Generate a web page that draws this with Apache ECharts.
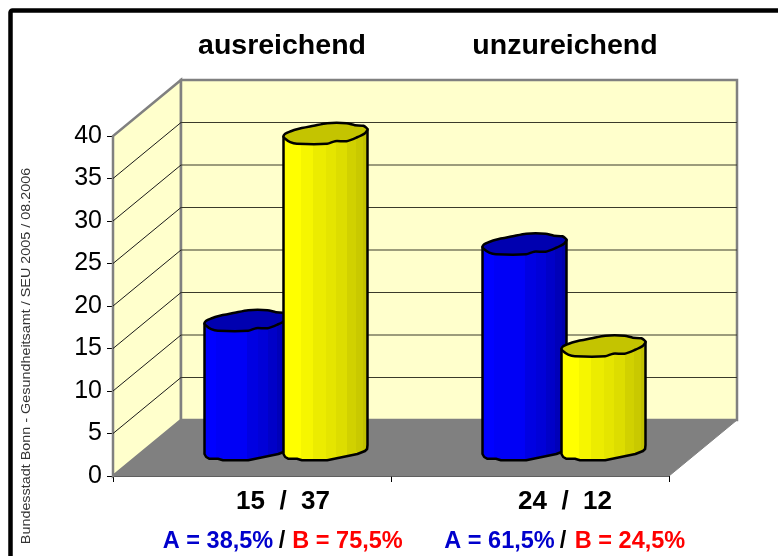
<!DOCTYPE html>
<html lang="en">
<head>
    <meta charset="UTF-8">
    <title>Bundesstadt Bonn</title>
    <style>
        *{margin: 0; padding: 0;}
        body,html{width: 100%; height: 100%; background: #fff; overflow: hidden;}
        #chart{width: 778px; height: 556px;}
    </style>
</head>
<body>
<div id="chart"></div>
<script src="https://cdn.jsdelivr.net/npm/echarts@6/dist/echarts.min.js"></script>
<script>
    const categories = ['ausreichend', 'unzureichend'];
    const valuesA = [15, 24];
    const valuesB = [37, 12];
    const countLabels = ['15  /  37', '24  /  12'];
    const shareA = ['A = 38,5%', 'A = 61,5%'];
    const shareB = ['B = 75,5%', 'B = 24,5%'];
    const yTicks = [5, 10, 15, 20, 25, 30, 35, 40];
    const source = 'Bundesstadt Bonn - Gesundheitsamt / SEU 2005 / 08.2006';

    // fake 3D depth in px
    const depthX = 68, depthY = -56;
    const font = '"Liberation Sans", Arial, sans-serif';

    // outline of the cylinder lid, u = share of bar width, d = px from centre
    const lid = [[0,3],[.02,.3],[.08,-2],[.16,-4.3],[.36,-7.7],[.52,-10.3],[.75,-10.3],[.85,-8.3],[.95,-7.7],[1,-4.3],
        [.97,-.3],[.87,4],[.75,7.7],[.615,7.7],[.52,10.3],[.16,10.3],[.08,8.7],[.02,5.3]];
    const foot = [[1,-3],[.995,1],[.97,3],[.88,6],[.52,12.3],[.22,12.3],[.16,10.8],[.06,10.8],[.02,9],[0,6]];

    function stripes(c) {
        const st = [];
        c.forEach(function (s, i) {
            st.push({offset: s[0], color: s[1]});
            st.push({offset: i + 1 < c.length ? c[i + 1][0] : 1, color: s[1]});
        });
        return {type: 'linear', x: 0, y: 0, x2: 1, y2: 0, colorStops: st};
    }
    const yellowBody = stripes([[0,'#ffff00'],[.22,'#f6f600'],[.36,'#ecec00'],[.51,'#e5e500'],[.62,'#dddd00'],[.75,'#d1d100'],[.85,'#c9c900'],[.93,'#c0c000']]);
    const blueBody = stripes([[0,'#0000ff'],[.15,'#0000f6'],[.51,'#0000e2'],[.63,'#0000d8'],[.75,'#0000c8'],[.85,'#0000b8'],[.93,'#0000ac']]);

    function renderWalls(params, api) {
        const size = api.size([1, 0])[0];
        const p0 = api.coord([0, 0]), top = api.coord([0, 40]);
        const l = p0[0] - size / 2, r = l + 2 * size, y0 = p0[1], y40 = top[1];
        const bl = l + depthX, br = r + depthX, by0 = y0 + depthY, by40 = y40 + depthY;
        const children = [
            {type: 'polygon', shape: {points: [[l,y0],[bl,by0],[bl,by40],[l,y40]]}, style: {fill: '#ffffcc', stroke: '#808080', lineWidth: 2.5}},
            {type: 'polygon', shape: {points: [[bl,by0],[br,by0],[br,by40],[bl,by40]]}, style: {fill: '#ffffcc', stroke: '#808080', lineWidth: 2.5}},
            {type: 'polygon', shape: {points: [[l,y0],[r,y0],[br,by0],[bl,by0]]}, style: {fill: '#808080', stroke: '#808080', lineWidth: 1}}
        ];
        yTicks.slice(0, -1).forEach(function (v) {
            const y = api.coord([0, v])[1];
            children.push({type: 'line', shape: {x1: l, y1: y, x2: bl, y2: y + depthY}, style: {stroke: '#1a1a1a', lineWidth: 1}});
            children.push({type: 'line', shape: {x1: bl, y1: y + depthY, x2: br, y2: y + depthY}, style: {stroke: '#3a3a2a', lineWidth: 1.2}});
        });
        return {type: 'group', children: children};
    }

    function cylinder(side, body, lidColor) {
        return function (params, api) {
            const cat = api.value(0), v = api.value(1);
            const c = api.coord([cat, v]), c0 = api.coord([cat, 0]);
            const w = 84;
            const x = c[0] + depthX / 2 + side * 39.5 - w / 2;
            const yt = c[1] + depthY / 2, yb = c0[1] + depthY / 2;
            const topPts = lid.map(function (p) { return [x + p[0] * w, yt + p[1]]; });
            const bodyPts = [[x, yt + lid[0][1]], [x + w, yt + lid[9][1]]].concat(foot.map(function (p) { return [x + p[0] * w, yb + p[1]]; }));
            return {type: 'group', children: [
                {type: 'polygon', shape: {points: bodyPts}, style: {fill: body, stroke: '#000', lineWidth: 2.5, lineJoin: 'round'}},
                {type: 'polygon', shape: {points: topPts, smooth: 0.25}, style: {fill: lidColor, stroke: '#000', lineWidth: 2.5, lineJoin: 'round'}}
            ]};
        };
    }

    const textBase = {fontFamily: font, fontWeight: 'bold', textAlign: 'center', textVerticalAlign: 'middle'};
    const graphics = [
        // frame only shows on the left and top, the rest is off the page
        {type: 'rect', shape: {x: 10.5, y: 10.5, width: 800, height: 600, r: 2}, style: {fill: 'none', stroke: '#000', lineWidth: 4.5}, z: 10},
        {type: 'text', x: 26.5, y: 356, rotation: Math.PI / 2, scaleX: 1.15, style: {text: source, fontFamily: font, fontSize: 12.5, fill: '#333', textAlign: 'center', textVerticalAlign: 'middle'}}
    ];
    const titleX = [282, 565], countX = [283, 565];
    categories.forEach(function (name, i) {
        graphics.push({type: 'text', x: titleX[i], y: 46, style: Object.assign({}, textBase, {text: name, fontSize: 28.5, fill: '#000'})});
        graphics.push({type: 'text', x: countX[i], y: 502, style: Object.assign({}, textBase, {text: countLabels[i], fontSize: 26, fill: '#000'})});
    });
    const shareX = [[218, 282, 347.5], [499.5, 563, 630]];
    shareX.forEach(function (xs, i) {
        graphics.push({type: 'text', x: xs[0], y: 542, style: Object.assign({}, textBase, {text: shareA[i], fontSize: 23.5, fill: '#0000cc'})});
        graphics.push({type: 'text', x: xs[1], y: 542, style: Object.assign({}, textBase, {text: '/', fontSize: 23.5, fill: '#000'})});
        graphics.push({type: 'text', x: xs[2], y: 542, style: Object.assign({}, textBase, {text: shareB[i], fontSize: 23.5, fill: '#ff0000'})});
    });

    const option = {
        animation: false,
        backgroundColor: '#fff',
        grid: {left: 113, right: 109, top: 136, bottom: 80},
        xAxis: {
            type: 'category',
            data: categories,
            boundaryGap: true,
            axisLine: {lineStyle: {color: '#000', width: 1.5}},
            axisTick: {show: true, length: 6, lineStyle: {color: '#000'}},
            axisLabel: {show: false},
            splitLine: {show: false}
        },
        yAxis: {
            type: 'value',
            min: 0,
            max: 40,
            interval: 5,
            axisLine: {show: true, lineStyle: {color: '#333', width: 1.5}},
            axisTick: {show: true, length: 6, lineStyle: {color: '#000'}},
            axisLabel: {color: '#000', fontSize: 25, fontFamily: font, margin: 11},
            splitLine: {show: false}
        },
        graphic: graphics,
        series: [
            {type: 'custom', z: 1, silent: true, renderItem: renderWalls, data: [[0, 0]], clip: false},
            {type: 'custom', z: 2, silent: true, renderItem: cylinder(-1, blueBody, '#0000b0'), data: [[0, valuesA[0]], [1, valuesA[1]]], clip: false},
            {type: 'custom', z: 3, silent: true, renderItem: cylinder(1, yellowBody, '#c4c400'), data: [[0, valuesB[0]], [1, valuesB[1]]], clip: false}
        ]
    };
    const myChart = echarts.init(document.getElementById('chart'));
    myChart.setOption(option);
</script>
</body>
</html>
